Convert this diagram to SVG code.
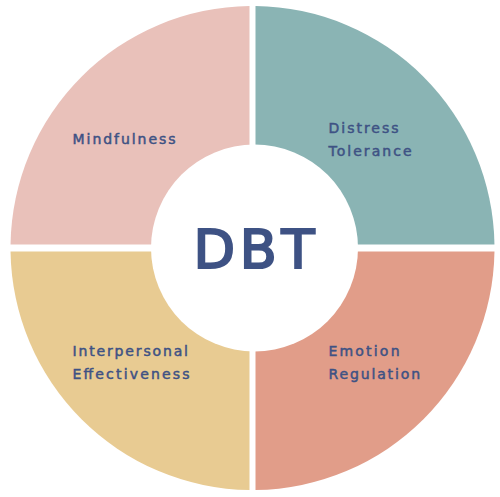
<svg xmlns="http://www.w3.org/2000/svg" width="500" height="497" viewBox="0 0 500 497">
<style>
.lbl{font-family:"DejaVu Sans",sans-serif;font-size:14px;font-weight:400;fill:#3E5284;stroke:#3E5284;stroke-width:0.5}
.core{font-family:"DejaVu Sans",sans-serif;font-size:54px;font-weight:400;fill:#3E5284;stroke:#3E5284;stroke-width:2.2}
</style>
<rect width="500" height="497" fill="#ffffff"/>
<g id="mindfulness">
<path d="M249.5,244.5 L249.5,6.02 A242,242 0 0 0 10.53,244.5 Z" fill="#E9C1BA"/>
<text class="lbl" x="72.5" y="143.5" textLength="103" lengthAdjust="spacing">Mindfulness</text>
</g>
<g id="distress-tolerance">
<path d="M255.5,244.5 L255.5,6.02 A242,242 0 0 1 494.47,244.5 Z" fill="#8AB4B4"/>
<text class="lbl" x="328.5" y="133" textLength="70" lengthAdjust="spacing">Distress</text>
<text class="lbl" x="328.5" y="155.5" textLength="83" lengthAdjust="spacing">Tolerance</text>
</g>
<g id="emotion-regulation">
<path d="M255.5,251.5 L494.47,251.5 A242,242 0 0 1 255.5,489.98 Z" fill="#E19D89"/>
<text class="lbl" x="328.5" y="356" textLength="71" lengthAdjust="spacing">Emotion</text>
<text class="lbl" x="328.5" y="378.5" textLength="91.5" lengthAdjust="spacing">Regulation</text>
</g>
<g id="interpersonal-effectiveness">
<path d="M249.5,251.5 L10.53,251.5 A242,242 0 0 0 249.5,489.98 Z" fill="#E8CB92"/>
<text class="lbl" x="72.5" y="356" textLength="115.5" lengthAdjust="spacing">Interpersonal</text>
<text class="lbl" x="72.5" y="378.5" textLength="117" lengthAdjust="spacing">Effectiveness</text>
</g>
<g id="dbt">
<circle cx="254.5" cy="248" r="103.5" fill="#ffffff"/>
<text class="core" x="193.5" y="268" textLength="121" lengthAdjust="spacing">DBT</text>
</g>
</svg>
